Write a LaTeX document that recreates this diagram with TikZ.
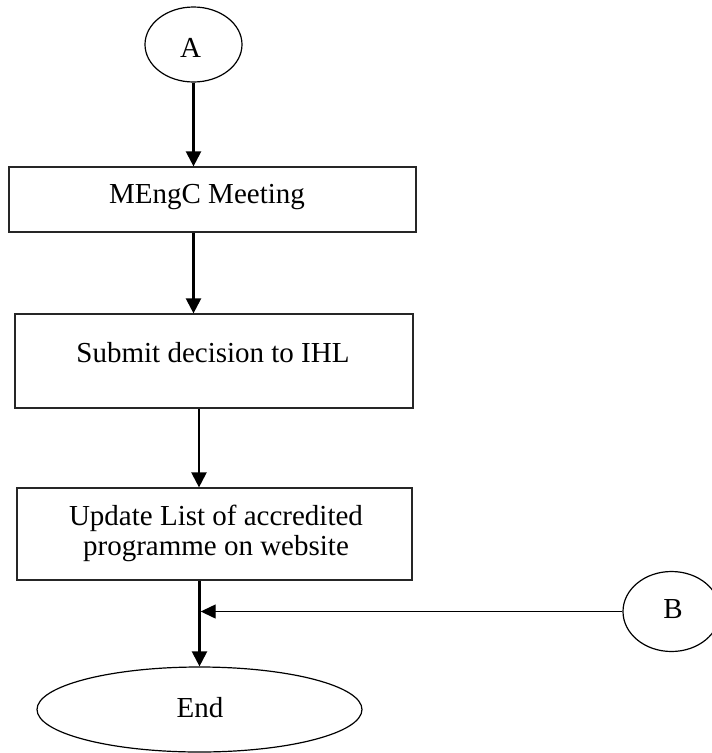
\documentclass[tikz,border=0pt]{standalone}
\usepackage{fontspec}
\setmainfont{Liberation Serif}
\usetikzlibrary{arrows.meta,shapes.geometric}
\begin{document}
\begin{tikzpicture}[x=1pt,y=-1pt,
  font=\fontsize{29}{31}\selectfont,
  boxst/.style={draw=black!85, line width=1.2pt, rectangle, inner sep=0pt},
  ov/.style={draw, line width=1.2pt, ellipse, inner sep=0pt},
  lbl/.style={inner sep=0pt, anchor=base},
  flow/.style={line width=2.2pt, -{Triangle[length=15pt,width=15pt]}},
  side/.style={line width=1.3pt, -{Triangle[length=15pt,width=14pt]}}]
\useasboundingbox (0,0) rectangle (712,753);

% connector terminals
\node[ov, minimum width=97pt, minimum height=75pt] (A) at (193.5,44.5) {};
\node[lbl] (At) at (190.5,57) {A};
\node[ov, minimum width=97pt, minimum height=80pt] (B) at (671.5,611.5) {};
\node[lbl] (Bt) at (673,618) {B};

% process boxes
\node[boxst, minimum width=407pt, minimum height=65pt] (b1) at (212.5,199.5) {};
\node[lbl] (b1t) at (207,203) {MEngC Meeting};
\node[boxst, minimum width=398pt, minimum height=94pt] (b2) at (214,361) {};
\node[lbl] (b2t) at (213,362) {Submit decision to IHL};
\node[boxst, minimum width=395pt, minimum height=92pt] (b3) at (214.5,534) {};
\node[lbl] (b3t1) at (216,525) {Update List of accredited};
\node[lbl] (b3t2) at (216,555) {programme on website};

% terminator
\node[ov, minimum width=325pt, minimum height=85pt] (E) at (199.5,709.5) {};
\node[lbl] (Et) at (200,717) {End};

\coordinate (c2) at (199,0);

% flow
\draw[flow] (A.south) -- (A |- b1.north);
\draw[flow] (b1.south -| A) -- (b2.north -| A);
\draw[flow] (b2.south -| c2) -- (b3.north -| c2);
\draw[flow] (b3.south -| E) -- (E.north);
\draw[side, shorten >=1.2pt] (B.west) -- (B.west -| E);
\end{tikzpicture}
\end{document}
